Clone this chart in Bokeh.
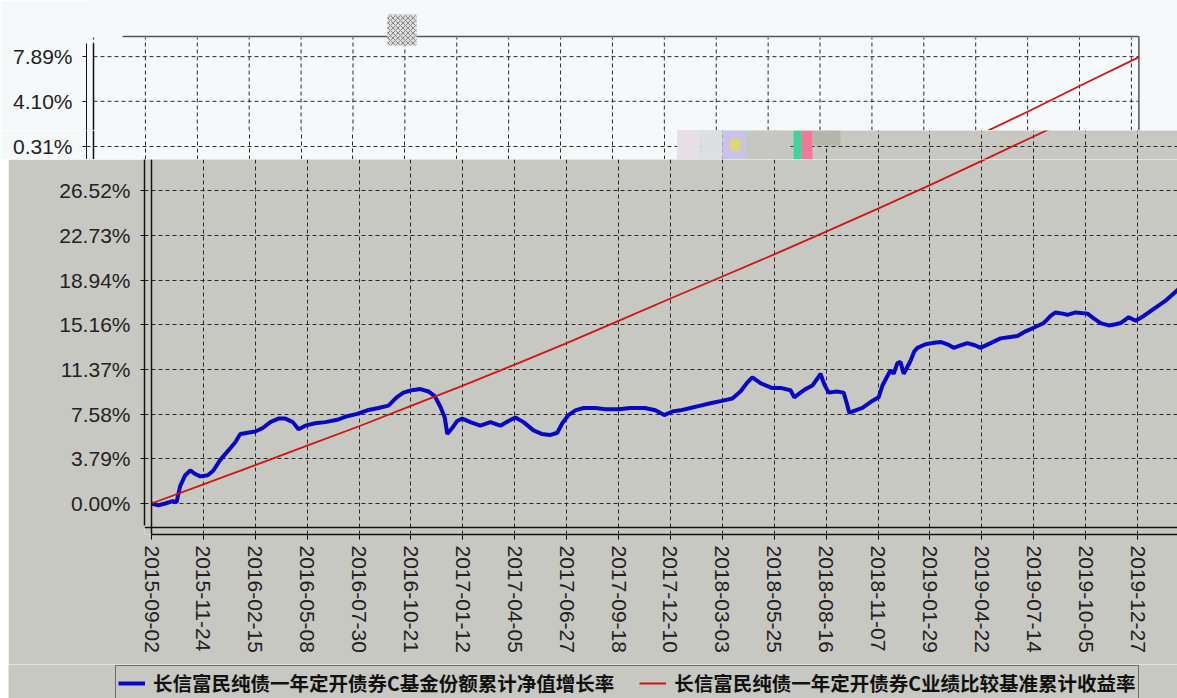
import pandas as pd
from bokeh.plotting import figure
from bokeh.layouts import column, row
from bokeh.models import (FixedTicker, PrintfTickFormatter, Span, Legend, LegendItem,
                          Grid, Range1d, Spacer)
from bokeh.embed import file_html
from bokeh.resources import INLINE

# ---------------- data ----------------
start_date = "2015-09-02"
tick_dates = ["2015-09-02", "2015-11-24", "2016-02-15", "2016-05-08", "2016-07-30",
              "2016-10-21", "2017-01-12", "2017-04-05", "2017-06-27", "2017-09-18",
              "2017-12-10", "2018-03-03", "2018-05-25", "2018-08-16", "2018-11-07",
              "2019-01-29", "2019-04-22", "2019-07-14", "2019-10-05", "2019-12-27",
              "2020-03-19"]
y_ticks = [0.00, 3.79, 7.58, 11.37, 15.16, 18.94, 22.73, 26.52]
upper_ticks = [30.31, 34.10, 37.89]
upper_tick_labels = ["0.31%", "4.10%", "7.89%"]

# benchmark (red)
bench_dates = tick_dates[:20] + ["2020-03-31"]
bench_values = [0.00, 1.62, 3.25, 4.90, 6.55, 8.28, 10.00, 11.78, 13.60, 15.48, 17.38,
                19.25, 21.12, 23.05, 25.00, 27.00, 29.05, 31.12, 33.22, 35.40, 37.85]

# fund NAV growth (blue); x = days since 2015-09-02
nav_day_offsets = [0, 11, 22, 34, 40, 46, 54, 62, 70, 78, 90, 99, 110, 123, 134, 142, 154,
                   166, 178, 190, 203, 214, 226, 235, 246, 262, 278, 297, 313, 329, 345,
                   363, 379, 392, 403, 416, 430, 443, 453, 462, 469, 473, 481, 489, 497,
                   510, 526, 542, 558, 571, 582, 595, 611, 624, 637, 649, 657, 667, 678,
                   691, 710, 726, 747, 766, 789, 806, 820, 833, 846, 862, 878, 894, 912,
                   929, 942, 952, 961, 974, 992, 1006, 1022, 1028, 1038, 1046, 1057, 1065,
                   1070, 1076, 1083, 1096, 1107, 1112, 1116, 1126, 1137, 1150, 1163, 1169,
                   1176, 1182, 1187, 1193, 1198, 1203, 1209, 1214, 1220, 1225, 1238, 1249,
                   1262, 1273, 1283, 1294, 1305, 1318, 1326, 1342, 1358, 1371, 1385, 1398,
                   1411, 1427, 1438, 1446, 1457, 1465, 1478, 1497, 1507, 1518, 1531, 1542,
                   1550, 1563, 1574, 1587, 1603, 1622, 1641, 1671]
nav_values = [0.0, -0.15, 0.0, 0.2, 0.1, 1.5, 2.4, 2.8, 2.5, 2.3, 2.4, 2.8, 3.7, 4.5, 5.2,
              5.9, 6.0, 6.1, 6.4, 6.9, 7.2, 7.2, 6.9, 6.3, 6.6, 6.8, 6.9, 7.1, 7.4, 7.6, 7.9,
              8.1, 8.3, 9.0, 9.4, 9.6, 9.7, 9.5, 9.1, 8.2, 7.3, 5.9, 6.4, 7.0, 7.2, 6.9, 6.6,
              6.9, 6.6, 7.0, 7.3, 6.9, 6.2, 5.9, 5.8, 6.0, 6.8, 7.5, 7.9, 8.1, 8.1, 8.0, 8.0,
              8.1, 8.1, 7.9, 7.5, 7.8, 7.9, 8.1, 8.3, 8.5, 8.7, 8.9, 9.5, 10.2, 10.7, 10.2,
              9.8, 9.8, 9.6, 9.0, 9.4, 9.7, 10.0, 10.6, 11.0, 10.1, 9.4, 9.5, 9.4, 8.5, 7.7,
              7.9, 8.1, 8.6, 9.0, 10.0, 10.7, 11.3, 11.0, 11.9, 12.0, 11.0, 11.6, 12.1, 12.9,
              13.2, 13.5, 13.6, 13.7, 13.5, 13.2, 13.4, 13.6, 13.4, 13.2, 13.6, 14.0, 14.1,
              14.2, 14.6, 14.9, 15.3, 15.9, 16.2, 16.1, 16.0, 16.2, 16.1, 15.7, 15.3, 15.1,
              15.2, 15.3, 15.8, 15.5, 15.9, 16.5, 17.2, 18.1, 19.4]

series_names = ["长信富民纯债一年定开债券C基金份额累计净值增长率",
                "长信富民纯债一年定开债券C业绩比较基准累计收益率"]

# ---------------- helpers / styles ----------------
START = pd.Timestamp(start_date)


def to_days(dates):
    return [(pd.Timestamp(d) - START).days for d in dates]


tick_days = to_days(tick_dates)
bench_days = to_days(bench_dates)

PX_PER_DAY = 0.62524
PX_PER_PCT = 11.794


def day_at(px, origin):
    return (px - origin) / PX_PER_DAY


def pct_at(py):
    return (503 - py) / PX_PER_PCT


GRAY = "#c8c8c3"
PALE = "#f6f9f9"
BLUE = "#0808c4"
RED = "#d01515"
FONT = "Liberation Sans"
GRID_KW = dict(line_color="#2a2a2a", line_dash="4 3", line_width=1)


def style_yaxis(ax):
    ax.major_label_text_font = FONT
    ax.major_label_text_font_size = "21px"
    ax.major_label_text_color = "#222222"
    ax.major_tick_out = 4
    ax.major_tick_in = 0
    ax.minor_tick_out = 0
    ax.minor_tick_in = 0
    ax.major_label_standoff = 10
    ax.axis_line_color = "#111111"
    ax.major_tick_line_color = "#111111"


common = dict(output_backend="svg", toolbar_location=None, title=None,
              min_border_right=0, min_border_top=0, outline_line_color=None)

# ---------------- top (pale) panel ----------------
top = figure(width=1177, height=130,
             x_range=Range1d(day_at(86, 93), day_at(1177, 93)),
             y_range=Range1d(pct_at(130), pct_at(0)),
             x_axis_type=None, min_border_left=86, min_border_bottom=0,
             background_fill_color=PALE, border_fill_color=PALE, **common)
top.yaxis.ticker = FixedTicker(ticks=upper_ticks)
top.yaxis.major_label_overrides = dict(zip(upper_ticks, upper_tick_labels))
top.yaxis.bounds = (pct_at(130), pct_at(43))
style_yaxis(top.yaxis)
top.ygrid.visible = False
end_day = bench_days[-1]
top.segment(x0=tick_days, x1=tick_days, y0=[pct_at(130)] * len(tick_days),
            y1=[pct_at(37)] * len(tick_days), **GRID_KW)
hl = [v for v in upper_ticks if v > pct_at(130)]
top.segment(x0=[0] * len(hl), x1=[end_day] * len(hl), y0=hl, y1=hl, **GRID_KW)
top.segment(x0=[day_at(122, 93)], x1=[end_day], y0=[pct_at(36)], y1=[pct_at(36)],
            line_color="#555555", line_width=1.5)
top.segment(x0=[end_day], x1=[end_day], y0=[pct_at(130)], y1=[pct_at(36)],
            line_color="#555555", line_width=1.5)
top.segment(x0=[0], x1=[0], y0=[pct_at(130)], y1=[pct_at(43)],
            line_color="#111111", line_width=1.5)
top.quad(left=[day_at(387, 93)], right=[day_at(416, 93)], bottom=[pct_at(45)],
         top=[pct_at(14)], fill_color="#dcdcdc", line_color=None,
         hatch_pattern="x", hatch_color="#8a8a8a", hatch_scale=5)
top.line(bench_days, bench_values, color=RED, line_width=1.8)

# ---------------- strip: left pale part ----------------
sl = figure(width=677, height=29,
            x_range=Range1d(day_at(86, 93), day_at(677, 93)),
            y_range=Range1d(pct_at(159), pct_at(130)),
            x_axis_type=None, min_border_left=86, min_border_bottom=0,
            background_fill_color=PALE, border_fill_color=PALE, **common)
sl.yaxis.ticker = FixedTicker(ticks=upper_ticks)
sl.yaxis.major_label_overrides = dict(zip(upper_ticks, upper_tick_labels))
style_yaxis(sl.yaxis)
sl.ygrid.ticker = FixedTicker(ticks=upper_ticks)
sl.ygrid.grid_line_color = "#2a2a2a"
sl.ygrid.grid_line_dash = "4 3"
sl.add_layout(Grid(dimension=0, ticker=FixedTicker(ticks=tick_days),
                   grid_line_color="#2a2a2a", grid_line_dash="4 3"))
sl.add_layout(Span(location=0, dimension="height", line_color="#111111", line_width=1.5))

# ---------------- strip: right gray part (main chart continuation) ----------------
sr = figure(width=500, height=29,
            x_range=Range1d(day_at(677, 151), day_at(1177, 151)),
            y_range=Range1d(pct_at(159), pct_at(130)),
            x_axis_type=None, y_axis_type=None, min_border_left=0, min_border_bottom=0,
            background_fill_color=GRAY, border_fill_color=GRAY, **common)
glitch = [(677, 700, 130, 159, "#e6e0e6"), (700, 722, 130, 159, "#dde0e2"),
          (722, 745, 130, 159, "#c9c3ea"), (730, 740, 138, 150, "#d8dc70"),
          (745, 790, 130, 159, "#c6c6c2"), (793, 801, 130, 159, "#3fd3a0"),
          (801, 812, 130, 159, "#ef7a98"), (812, 840, 130, 145, "#b5b5ae")]
sr.quad(left=[day_at(g[0], 151) for g in glitch], right=[day_at(g[1], 151) for g in glitch],
        bottom=[pct_at(g[3]) for g in glitch], top=[pct_at(g[2]) for g in glitch],
        fill_color=[g[4] for g in glitch], line_color=None)
sr.add_layout(Grid(dimension=0, ticker=FixedTicker(ticks=tick_days),
                   grid_line_color="#2a2a2a", grid_line_dash="4 3"))
sr.add_layout(Grid(dimension=1, ticker=FixedTicker(ticks=upper_ticks),
                   grid_line_color="#2a2a2a", grid_line_dash="4 3"))
sr.line(bench_days, bench_values, color=RED, line_width=1.8)

# ---------------- main gray chart ----------------
p = figure(width=1169, height=505,
           x_range=Range1d(day_at(144, 151), day_at(1177, 151)),
           y_range=Range1d(pct_at(534), pct_at(159)),
           min_border_left=136, min_border_bottom=130,
           background_fill_color=GRAY, border_fill_color=GRAY, **common)

p.xaxis.ticker = FixedTicker(ticks=tick_days)
p.xaxis.major_label_overrides = dict(zip(tick_days, tick_dates))
p.xaxis.major_label_orientation = "vertical"
p.xaxis.major_label_text_font = FONT
p.xaxis.major_label_text_font_size = "21px"
p.xaxis.major_label_text_color = "#222222"
p.xaxis.major_tick_out = 5
p.xaxis.major_tick_in = 0
p.xaxis.minor_tick_out = 0
p.xaxis.minor_tick_in = 0
p.xaxis.major_label_standoff = 6
p.xaxis.bounds = (0, day_at(1177, 151))
p.xaxis.axis_line_color = "#111111"
p.xaxis.axis_line_width = 1.5

p.yaxis.ticker = FixedTicker(ticks=y_ticks)
p.yaxis.formatter = PrintfTickFormatter(format="%.2f%%")
p.yaxis.bounds = (pct_at(525), pct_at(159))
style_yaxis(p.yaxis)
p.yaxis.axis_line_width = 1.5

p.xgrid.grid_line_color = "#2a2a2a"
p.xgrid.grid_line_dash = "4 3"
p.ygrid.grid_line_color = "#2a2a2a"
p.ygrid.grid_line_dash = "4 3"

p.add_layout(Span(location=0, dimension="height", line_color="#111111", line_width=1.5))
p.add_layout(Span(location=pct_at(527), dimension="width", line_color="#111111",
                  line_width=1.5))

p.line(nav_day_offsets, nav_values, color=BLUE, line_width=4)
p.line(bench_days, bench_values, color=RED, line_width=1.8)

# ---------------- legend strip (series drawn out of view, only the legend shows) ----------------
lg = figure(width=1169, height=34, x_range=Range1d(-9000, -8000), y_range=Range1d(-9000, -8000),
            x_axis_type=None, y_axis_type=None, min_border_left=0, min_border_bottom=0,
            background_fill_color=GRAY, border_fill_color=GRAY, **common)
lk_nav = lg.line(nav_day_offsets, nav_values, color=BLUE, line_width=4)
lk_bench = lg.line(bench_days, bench_values, color=RED, line_width=2)
legend = Legend(items=[LegendItem(label=series_names[0], renderers=[lk_nav]),
                       LegendItem(label=series_names[1], renderers=[lk_bench])],
                location=(107, -2), orientation="horizontal",
                label_text_font="Noto Sans CJK SC", label_text_font_style="bold",
                label_text_font_size="19.5px", label_text_color="#111111",
                glyph_width=27, glyph_height=18, label_standoff=8, spacing=25,
                padding=2, margin=0, border_line_color="#111111", border_line_width=1.5,
                background_fill_color=GRAY, background_fill_alpha=1.0)
lg.add_layout(legend, "center")

layout = column(top, row(sl, sr),
                row(Spacer(width=8, height=505), p),
                row(Spacer(width=8, height=34), lg))
open("out.html", "w").write(file_html(layout, INLINE))
